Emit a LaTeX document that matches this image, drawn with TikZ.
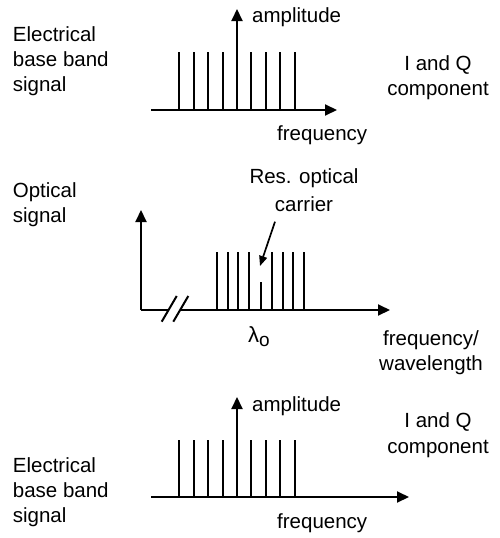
\documentclass[tikz,border=0pt]{standalone}
\usepackage{fontspec}
\setmainfont{Liberation Sans}
\usetikzlibrary{arrows.meta}
\begin{document}
\begin{tikzpicture}[x=1pt,y=-1pt,
  txt/.style={inner sep=0pt,font=\fontsize{20.5}{25}\selectfont},
  lbl/.style={txt,anchor=base west},
  clbl/.style={txt,anchor=base},
  axis/.style={line width=2pt,-{Triangle[length=12pt,width=11pt]}},
  spike/.style={line width=2pt},
  pointer/.style={line width=1.7pt,-{Triangle[length=10pt,width=8pt]}}]
\useasboundingbox (0,0) rectangle (499,538);
% ---------- top ----------
\node[lbl] (tl1) at (12.7,41.7) {Electrical};
\node[lbl] (tl2) at (12.7,66.7) {base band};
\node[lbl] (tl3) at (12.7,91.7) {signal};
\node[clbl] (tr1) at (438,70) {I and Q};
\node[clbl] (tr2) at (438,95.5) {component};
\node[lbl] (tamp) at (252,23) {amplitude};
\node[lbl] (tfreq) at (277,140) {frequency};
\coordinate (tO) at (151,110);
\coordinate (tX) at (337,110);
\coordinate (tV0) at (237,110);
\coordinate (tV1) at (237,9);
\draw[axis] (tO) -- (tX);
\draw[axis] (tV0) -- (tV1);
\foreach \x in {179,194,208,223,251,266,280,295}{
  \draw[spike] (\x,110) -- (\x,52);
}
% ---------- middle ----------
\node[lbl] (ml1) at (12.7,197) {Optical};
\node[lbl] (ml2) at (12.7,222) {signal};
\node[clbl] (res1) at (304,183) {Res. optical};
\node[clbl] (res2) at (304,211) {carrier};
\node[lbl] (lam) at (248,342) {\fontsize{22}{25}\selectfont λ\raisebox{-0.35ex}{\fontsize{19}{25}\selectfont o}};
\node[lbl] (mf1) at (383,345) {frequency/};
\node[lbl] (mf2) at (379,370) {wavelength};
\coordinate (mO) at (141,310);
\coordinate (mY) at (141,210);
\coordinate (mB1) at (168.5,310);
\coordinate (mB2) at (180,310);
\coordinate (mX) at (390,310);
\draw[axis] (mO) -- (mY);
\draw[spike] (mO) -- (mB1);
\draw[axis] (mB2) -- (mX);
\draw[spike] (161.7,321.7) -- (176.7,296);
\draw[spike] (173.3,321.7) -- (188.3,296);
\foreach \x in {217,228,238,249,272,283,293,304}{
  \draw[spike] (\x,310) -- (\x,252);
}
\coordinate (carr) at (261,282);
\draw[spike] (261,310) -- (carr);
\coordinate (pS) at (275,221.7);
\coordinate (pE) at (260,266);
\draw[pointer] (pS) -- (pE);
% ---------- bottom ----------
\node[lbl] (bl1) at (12.7,472) {Electrical};
\node[lbl] (bl2) at (12.7,497) {base band};
\node[lbl] (bl3) at (12.7,522) {signal};
\node[clbl] (br1) at (438,427) {I and Q};
\node[clbl] (br2) at (438,453) {component};
\node[lbl] (bamp) at (252,411) {amplitude};
\node[lbl] (bfreq) at (277,528) {frequency};
\coordinate (bO) at (151,497);
\coordinate (bX) at (409,497);
\coordinate (bV0) at (237,497);
\coordinate (bV1) at (237,397);
\draw[axis] (bO) -- (bX);
\draw[axis] (bV0) -- (bV1);
\foreach \x in {179,194,208,223,251,266,280,295}{
  \draw[spike] (\x,497) -- (\x,440);
}
\end{tikzpicture}
\end{document}
